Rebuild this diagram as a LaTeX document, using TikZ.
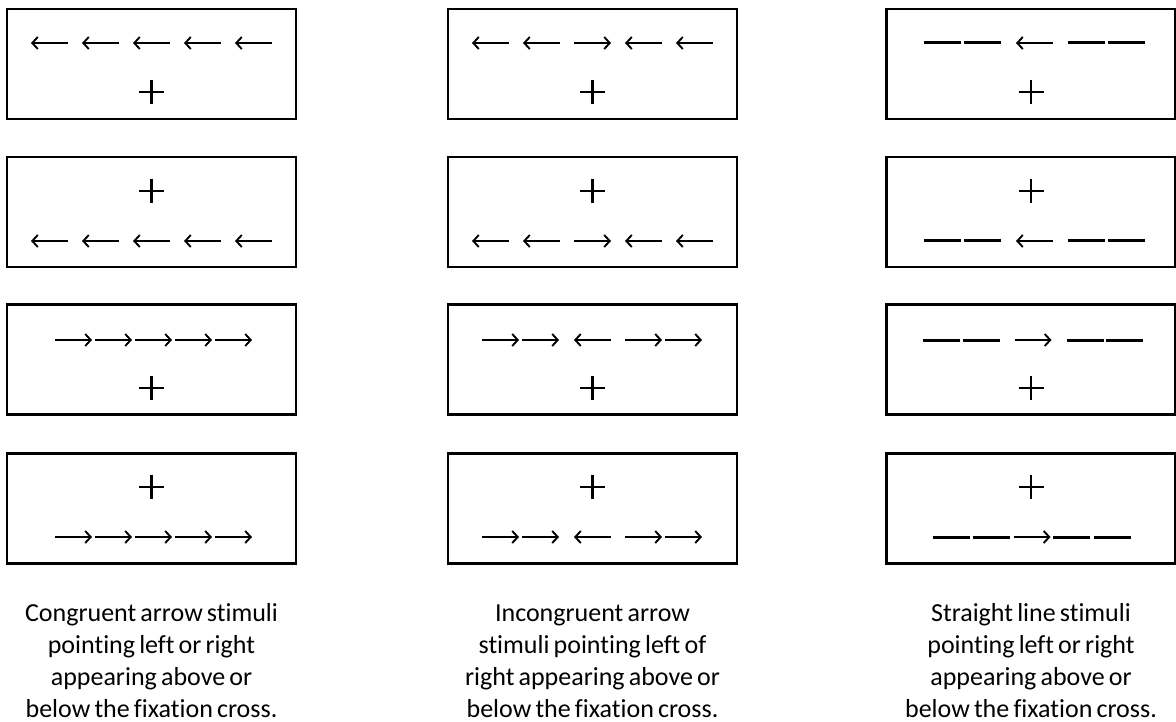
\documentclass[tikz,border=0pt]{standalone}
\usepackage{fontspec}
\usetikzlibrary{arrows.meta}
\newfontfamily\capfont{Carlito}[Ligatures={NoCommon}]
% caption type: Carlito, tight word spacing
\newcommand\capstyle{\capfont\fontsize{26}{32}\selectfont\spaceskip=0.16em plus 0.05em\relax}

% one stimulus element: #1 style, #2 centre x, #3 y, half length 18.5
\newcommand\stimel[3]{\draw[#1] ({#2-18.5},#3) -- ({#2+18.5},#3);}
% fixation cross centred at (#1,#2)
\newcommand\fixcross[2]{\draw[fixline] ({#1-12.5},#2) -- ({#1+12.5},#2) (#1,{#2-12}) -- (#1,{#2+12});}

\tikzset{
  frame/.style={draw, line width=2.3pt, minimum width=289pt, minimum height=110pt, inner sep=0pt},
  larr/.style={line width=1.9pt, {Straight Barb[length=5.5pt,width=12pt]}-},
  rarr/.style={line width=1.9pt, -{Straight Barb[length=5.5pt,width=12pt]}},
  dashbar/.style={line width=3pt},
  fixline/.style={line width=2.8pt},
  caption/.style={font=\capstyle, align=center, inner sep=0pt, anchor=base}
}

\begin{document}
\begin{tikzpicture}[x=1pt, y=-1pt]
\useasboundingbox (0,0) rectangle (1176,722);

% ---------- frames ----------
\foreach \cx/\c in {151.5/a, 592.5/b, 1031/c}{
  \foreach \cy/\r in {64/1, 212/2, 359.5/3, 508.5/4}{
    \node[frame] (box\c\r) at (\cx,\cy) {};
  }
}

% ---------- congruent arrows ----------
\foreach \o in {-102,-51,0,51,102} {
  \stimel{larr}{151.5+\o}{43}
  \stimel{larr}{151.5+\o}{241}
}
\foreach \o in {-78,-38,2,42,82} {
  \stimel{rarr}{151.5+\o}{340}
  \stimel{rarr}{151.5+\o}{537}
}
\fixcross{151.5}{92}
\fixcross{151.5}{191}
\fixcross{151.5}{388}
\fixcross{151.5}{487}

% ---------- incongruent arrows ----------
\foreach \o/\s in {-102/larr,-51/larr,0/rarr,51/larr,102/larr} {
  \stimel{\s}{592.5+\o}{43}
  \stimel{\s}{592.5+\o}{241}
}
\foreach \o/\s in {-92/rarr,-52/rarr,0/larr,51/rarr,91/rarr} {
  \stimel{\s}{592.5+\o}{340}
  \stimel{\s}{592.5+\o}{537}
}
\fixcross{592.5}{92}
\fixcross{592.5}{191}
\fixcross{592.5}{388}
\fixcross{592.5}{487}

% ---------- straight line stimuli ----------
\foreach \o/\s in {-89/dashbar,-49/dashbar,3.5/larr,55/dashbar,95/dashbar} {
  \stimel{\s}{1031+\o}{43}
  \stimel{\s}{1031+\o}{241}
}
\foreach \o/\s in {-90/dashbar,-50/dashbar,2/rarr,54/dashbar,93.5/dashbar} {
  \stimel{\s}{1031+\o}{340}
}
\foreach \o/\s in {-80/dashbar,-40/dashbar,1/rarr,40.5/dashbar,81/dashbar} {
  \stimel{\s}{1031+\o}{537}
}
\fixcross{1031}{92}
\fixcross{1031}{191}
\fixcross{1031}{388}
\fixcross{1031}{487}

% ---------- captions (anchored on the last baseline) ----------
\node[caption] (capa) at (151.5,717) {Congruent arrow stimuli\\pointing left or right\\appearing above or\\below the fixation cross.};
\node[caption] (capb) at (592.5,717) {Incongruent arrow\\stimuli pointing left of\\right appearing above or\\below the fixation cross.};
\node[caption] (capc) at (1031,717) {Straight line stimuli\\pointing left or right\\appearing above or\\below the fixation cross.};
\end{tikzpicture}
\end{document}
